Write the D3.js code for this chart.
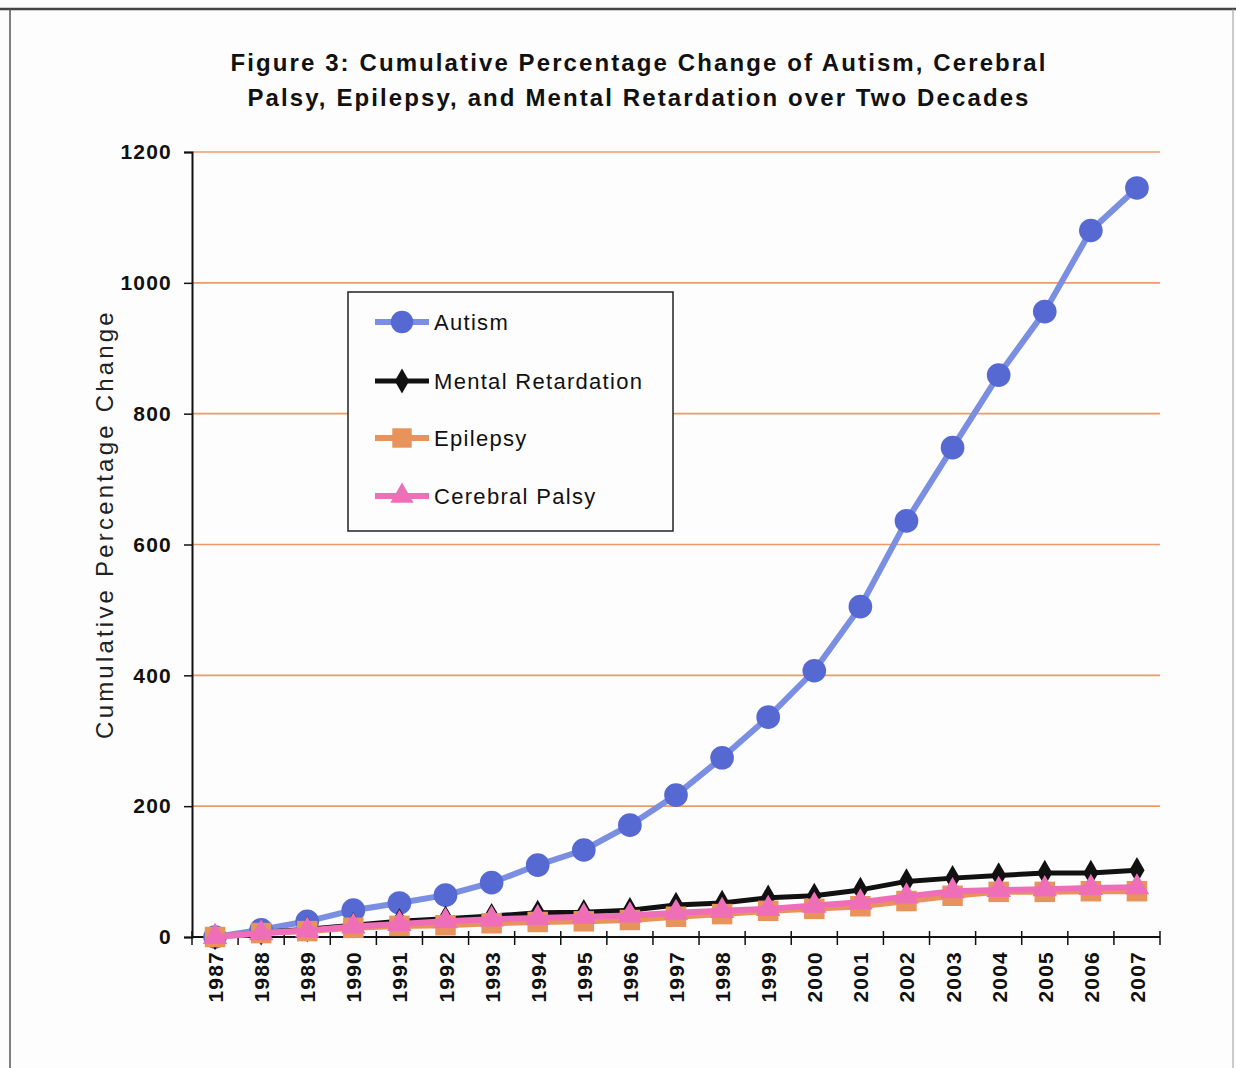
<!DOCTYPE html>
<html>
<head>
<meta charset="utf-8">
<script src="https://cdn.jsdelivr.net/npm/d3@7"></script>
<style>
  body { margin: 0; background: #fdfdfd; }
  svg { display: block; font-family: "Liberation Sans", Arial, sans-serif; }
</style>
</head>
<body>
<div id="chart"></div>
<script>
var years = ["1987","1988","1989","1990","1991","1992","1993","1994","1995","1996","1997",
             "1998","1999","2000","2001","2002","2003","2004","2005","2006","2007"];
var autism = [0, 11, 24, 41, 52, 64, 83, 110, 133, 171, 217, 274, 336, 407, 505, 636, 748, 859, 956, 1080, 1145];
var mentalRetardation = [0, 7, 12, 18, 24, 28, 32, 37, 38, 41, 49, 52, 60, 63, 72, 85, 90, 94, 98, 98, 102];
var epilepsy = [0, 6, 9, 14, 17, 18, 21, 23, 24, 26, 31, 35, 40, 43, 47, 55, 63, 69, 69, 70, 70];
var cerebralPalsy = [0, 6, 10, 16, 20, 24, 27, 29, 31, 33, 37, 40, 43, 48, 53, 62, 70, 72, 73, 75, 76];
var yTicks = [0, 200, 400, 600, 800, 1000, 1200];

var series = [
  {name: "Autism", values: autism, line: "#7b8fe2", fill: "#5668d2", shape: d3.symbolCircle, size: 440, width: 6},
  {name: "Mental Retardation", values: mentalRetardation, line: "#111111", fill: "#111111", shape: d3.symbolDiamond, size: 200, width: 5},
  {name: "Epilepsy", values: epilepsy, line: "#e8935c", fill: "#e8935c", shape: d3.symbolSquare, size: 420, width: 6},
  {name: "Cerebral Palsy", values: cerebralPalsy, line: "#ee6fb8", fill: "#ee6fb8", shape: d3.symbolTriangle, size: 260, width: 6}
];

var W = 1236, H = 1068;
var margin = {top: 152, left: 192, right: 76, bottom: 131};
var width = W - margin.left - margin.right;
var height = H - margin.top - margin.bottom;

var svg = d3.select("#chart").append("svg")
    .attr("width", W)
    .attr("height", H)
    .style("background-color", "#fdfdfd");

// frame of the scanned page
svg.append("line").attr("x1", 0).attr("x2", W).attr("y1", 9).attr("y2", 9)
    .attr("stroke", "#444").attr("stroke-width", 2.5);
svg.append("line").attr("x1", 10).attr("x2", 10).attr("y1", 9).attr("y2", H)
    .attr("stroke", "#555").attr("stroke-width", 1.5);
svg.append("line").attr("x1", 1233).attr("x2", 1233).attr("y1", 9).attr("y2", H)
    .attr("stroke", "#999").attr("stroke-width", 1);

// title
var title = svg.append("text")
    .attr("text-anchor", "middle")
    .style("font-size", "24px")
    .style("font-weight", "bold")
    .style("letter-spacing", "2.1px")
    .attr("fill", "#111");
title.append("tspan").attr("x", 639).attr("y", 71)
    .text("Figure 3: Cumulative Percentage Change of Autism, Cerebral");
title.append("tspan").attr("x", 639).attr("y", 106)
    .text("Palsy, Epilepsy, and Mental Retardation over Two Decades");

var g = svg.append("g")
    .attr("transform", "translate(" + margin.left + "," + margin.top + ")");

var x = d3.scaleBand().domain(years).range([0, width]);
var y = d3.scaleLinear().domain([0, 1200]).range([height, 0]);

// gridlines
g.selectAll(".grid").data(yTicks.slice(1)).enter().append("line")
    .attr("class", "grid")
    .attr("x1", 0).attr("x2", width)
    .attr("y1", function(d) { return y(d); })
    .attr("y2", function(d) { return y(d); })
    .attr("stroke", "#ef9a66")
    .attr("stroke-width", 1.6);

// y axis
var yAxis = g.append("g")
    .call(d3.axisLeft(y).tickValues(yTicks).tickFormat(d3.format("d")).tickSize(8).tickPadding(12));
yAxis.select(".domain").attr("stroke", "#111").attr("stroke-width", 2);
yAxis.selectAll(".tick line").attr("stroke", "#111").attr("stroke-width", 1.5);
yAxis.selectAll("text")
    .style("font-size", "21px").style("font-weight", "bold")
    .style("letter-spacing", "1.2px")
    .attr("fill", "#111");

// x axis, ticks between categories
var xAxisG = g.append("g").attr("transform", "translate(0," + height + ")");
xAxisG.append("line").attr("x1", 0).attr("x2", width)
    .attr("stroke", "#111").attr("stroke-width", 2);
var bounds = d3.range(years.length + 1).map(function(i) { return i * x.step(); });
xAxisG.selectAll(".xt").data(bounds).enter().append("line")
    .attr("x1", function(d) { return d; }).attr("x2", function(d) { return d; })
    .attr("y1", -6).attr("y2", 8)
    .attr("stroke", "#111").attr("stroke-width", 1.5);
xAxisG.selectAll(".xl").data(years).enter().append("text")
    .attr("transform", function(d) {
      return "translate(" + (x(d) + x.bandwidth() / 2 + 8) + ",14) rotate(-90)";
    })
    .attr("text-anchor", "end")
    .style("font-size", "21px").style("font-weight", "bold")
    .style("letter-spacing", "1.2px")
    .attr("fill", "#111")
    .text(function(d) { return d; });

// y axis title
svg.append("text")
    .attr("transform", "translate(113,524) rotate(-90)")
    .attr("text-anchor", "middle")
    .style("font-size", "24px")
    .style("letter-spacing", "3.2px")
    .attr("fill", "#222")
    .text("Cumulative Percentage Change");

// lines and markers
var line = d3.line()
    .x(function(d, i) { return x(years[i]) + x.bandwidth() / 2; })
    .y(function(d) { return y(d); });

series.forEach(function(s) {
  g.append("path")
      .attr("d", line(s.values))
      .attr("fill", "none")
      .attr("stroke", s.line)
      .attr("stroke-width", s.width)
      .attr("stroke-linejoin", "round");
  g.selectAll(null).data(s.values).enter().append("path")
      .attr("d", d3.symbol().type(s.shape).size(s.size))
      .attr("transform", function(d, i) {
        return "translate(" + (x(years[i]) + x.bandwidth() / 2) + "," + y(d) + ")";
      })
      .attr("fill", s.fill);
});

// legend
var legend = svg.append("g").attr("transform", "translate(348,292)");
legend.append("rect")
    .attr("width", 325).attr("height", 239)
    .attr("fill", "#fdfdfd")
    .attr("stroke", "#222").attr("stroke-width", 1.5);
var rows = [30, 89, 146, 204];
series.forEach(function(s, i) {
  var row = legend.append("g").attr("transform", "translate(0," + rows[i] + ")");
  row.append("line").attr("x1", 27).attr("x2", 81)
      .attr("stroke", s.line).attr("stroke-width", s.width);
  row.append("path")
      .attr("d", d3.symbol().type(s.shape).size(s.size * 0.9))
      .attr("transform", "translate(54,0)")
      .attr("fill", s.fill);
  row.append("text")
      .attr("x", 86).attr("y", 8)
      .style("font-size", "22px")
      .style("letter-spacing", "1.3px")
      .attr("fill", "#111")
      .text(s.name);
});
</script>
</body>
</html>
